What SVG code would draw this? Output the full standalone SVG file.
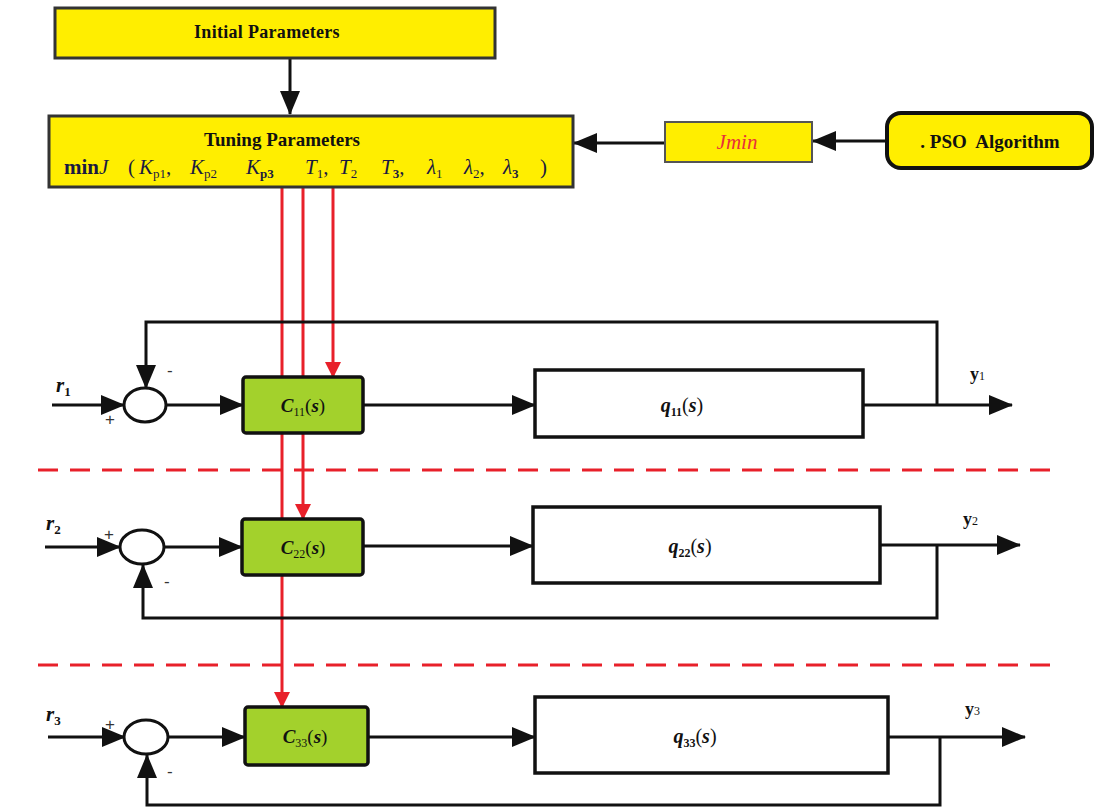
<svg xmlns="http://www.w3.org/2000/svg" width="1094" height="811" viewBox="0 0 1094 811">
<style>
.ybox{fill:#ffee00;stroke:#333;stroke-width:3}
.gbox{fill:#a3d12c;stroke:#111;stroke-width:3.5}
.wbox{fill:#fff;stroke:#111;stroke-width:3.5}
.sum{fill:#fff;stroke:#111;stroke-width:3}
.ln{fill:none;stroke:#111;stroke-width:3}
.red{fill:none;stroke:#e8202a;stroke-width:3}
.dash{fill:none;stroke:#e8202a;stroke-width:3;stroke-dasharray:20 12}
.t{font-family:"Liberation Serif",serif;fill:#111}
.b{font-weight:bold}
.i{font-style:italic}
.sign{font-family:"Liberation Sans",sans-serif;font-size:17px;fill:#333}
.sub{font-size:13px}
</style>
<defs>
<marker id="ah" markerUnits="userSpaceOnUse" markerWidth="24" markerHeight="20" refX="23" refY="10" orient="auto"><path d="M0,0 L24,10 L0,20 Z" fill="#111"/></marker>
<marker id="ahr" markerUnits="userSpaceOnUse" markerWidth="16" markerHeight="16" refX="15" refY="8" orient="auto"><path d="M0,0 L16,8 L0,16 Z" fill="#e8202a"/></marker>
</defs>

<g id="connectors">
<line class="ln" x1="290" y1="58" x2="290" y2="114" marker-end="url(#ah)"/>
<line class="ln" x1="665" y1="143" x2="574" y2="143" marker-end="url(#ah)"/>
<line class="ln" x1="887" y1="141" x2="813" y2="141" marker-end="url(#ah)"/>
<line class="red" x1="333" y1="187" x2="333" y2="377" marker-end="url(#ahr)"/>
<line class="red" x1="303" y1="187" x2="303" y2="519" marker-end="url(#ahr)"/>
<line class="red" x1="282" y1="187" x2="282" y2="707" marker-end="url(#ahr)"/>
<line class="ln" x1="52" y1="405" x2="124" y2="405" marker-end="url(#ah)"/>
<path class="ln" d="M937,405 V322 H146 V388" marker-end="url(#ah)"/>
<line class="ln" x1="166" y1="405" x2="243" y2="405" marker-end="url(#ah)"/>
<line class="ln" x1="363" y1="405" x2="535" y2="405" marker-end="url(#ah)"/>
<line class="ln" x1="863" y1="405" x2="1012" y2="405" marker-end="url(#ah)"/>
<line class="ln" x1="45" y1="547" x2="120" y2="547" marker-end="url(#ah)"/>
<path class="ln" d="M937,545 V618 H143 V565" marker-end="url(#ah)"/>
<line class="ln" x1="164" y1="547" x2="242" y2="547" marker-end="url(#ah)"/>
<line class="ln" x1="363" y1="546" x2="533" y2="546" marker-end="url(#ah)"/>
<line class="ln" x1="880" y1="545" x2="1020" y2="545" marker-end="url(#ah)"/>
<line class="ln" x1="48" y1="737" x2="125" y2="737" marker-end="url(#ah)"/>
<path class="ln" d="M940,737 V805 H147 V755" marker-end="url(#ah)"/>
<line class="ln" x1="167" y1="737" x2="245" y2="737" marker-end="url(#ah)"/>
<line class="ln" x1="368" y1="737" x2="535" y2="737" marker-end="url(#ah)"/>
<line class="ln" x1="888" y1="737" x2="1025" y2="737" marker-end="url(#ah)"/>
<line class="dash" x1="38" y1="470" x2="1062" y2="470"/>
<line class="dash" x1="38" y1="665" x2="1062" y2="665"/>
</g>

<g id="initial">
<rect class="ybox" x="55" y="8" width="440" height="50"/>
<text class="t b" x="267" y="38" font-size="18" text-anchor="middle" letter-spacing="0.3">Initial Parameters</text>
</g>

<g id="tuning">
<rect class="ybox" x="49" y="116" width="524" height="71"/>
<text class="t b" x="282" y="146" font-size="19" text-anchor="middle">Tuning Parameters</text>
<text class="t" y="174" font-size="21" style="fill:#1a1a40"><tspan x="64" class="b">min</tspan><tspan class="i">J</tspan><tspan x="128">(</tspan><tspan x="139" class="i">K</tspan><tspan class="sub" dy="4">p1</tspan><tspan dy="-4">,</tspan><tspan x="190" class="i">K</tspan><tspan class="sub" dy="4">p2</tspan><tspan x="246" dy="-4" class="i">K</tspan><tspan class="sub b" dy="4">p3</tspan><tspan x="305" dy="-4" class="i">T</tspan><tspan class="sub" dy="4">1</tspan><tspan dy="-4">,</tspan><tspan x="339" class="i">T</tspan><tspan class="sub" dy="4">2</tspan><tspan x="381" dy="-4" class="i">T</tspan><tspan class="sub b" dy="4">3</tspan><tspan dy="-4">,</tspan><tspan x="427" class="i">λ</tspan><tspan class="sub" dy="4">1</tspan><tspan x="464" dy="-4" class="i">λ</tspan><tspan class="sub" dy="4">2</tspan><tspan dy="-4">,</tspan><tspan x="503" class="i">λ</tspan><tspan class="sub b" dy="4">3</tspan><tspan x="540" dy="-4">)</tspan></text>
</g>

<g id="jmin">
<rect x="665" y="122" width="147" height="40" fill="#ffee00" stroke="#555" stroke-width="2"/>
<text class="t i" x="737" y="149" font-size="21" text-anchor="middle" style="fill:#e8303a">Jmin</text>
</g>

<g id="pso">
<rect x="887" y="113" width="205" height="55" rx="14" fill="#ffee00" stroke="#111" stroke-width="4"/>
<text class="t b" x="990" y="148" font-size="19" text-anchor="middle" xml:space="preserve">. PSO  Algorithm</text>
</g>

<g id="loop1">
<ellipse class="sum" cx="145" cy="405" rx="21" ry="17"/>
<text class="t b i" x="56" y="392" font-size="21">r<tspan font-size="13" dy="4" font-style="normal">1</tspan></text>
<text class="sign" x="105" y="425">+</text>
<text class="sign" x="167" y="376">-</text>
<rect class="gbox" x="243" y="377" width="120" height="56" rx="3"/>
<text class="t" x="303" y="412" font-size="19" text-anchor="middle" fill="#2a2a2a"><tspan class="i b">C</tspan><tspan font-size="12" dy="4">11</tspan><tspan dy="-4">(</tspan><tspan class="i b">s</tspan>)</text>
<rect class="wbox" x="535" y="370" width="328" height="67"/>
<text class="t" x="682" y="412" font-size="20" text-anchor="middle"><tspan class="i b">q</tspan><tspan font-size="12" dy="4" class="b">11</tspan><tspan dy="-4">(</tspan><tspan class="i b">s</tspan>)</text>
<text class="t b" x="970" y="380" font-size="18">y<tspan font-size="12" font-weight="normal">1</tspan></text>
</g>

<g id="loop2">
<ellipse class="sum" cx="142" cy="547" rx="22" ry="17"/>
<text class="t b i" x="46" y="530" font-size="21">r<tspan font-size="13" dy="4" font-style="normal">2</tspan></text>
<text class="sign" x="104" y="540">+</text>
<text class="sign" x="164" y="587">-</text>
<rect class="gbox" x="242" y="519" width="121" height="56" rx="3"/>
<text class="t" x="303" y="554" font-size="19" text-anchor="middle" fill="#2a2a2a"><tspan class="i b">C</tspan><tspan font-size="12" dy="4">22</tspan><tspan dy="-4">(</tspan><tspan class="i b">s</tspan>)</text>
<rect class="wbox" x="533" y="507" width="347" height="76"/>
<text class="t" x="690" y="553" font-size="20" text-anchor="middle"><tspan class="i b">q</tspan><tspan font-size="12" dy="4" class="b">22</tspan><tspan dy="-4">(</tspan><tspan class="i b">s</tspan>)</text>
<text class="t b" x="963" y="525" font-size="18">y<tspan font-size="12" font-weight="normal">2</tspan></text>
</g>

<g id="loop3">
<ellipse class="sum" cx="146" cy="737" rx="22" ry="17"/>
<text class="t b i" x="46" y="721" font-size="21">r<tspan font-size="13" dy="4" font-style="normal">3</tspan></text>
<text class="sign" x="105" y="730">+</text>
<text class="sign" x="167" y="777">-</text>
<rect class="gbox" x="245" y="707" width="123" height="58" rx="3"/>
<text class="t" x="305" y="743" font-size="19" text-anchor="middle" fill="#2a2a2a"><tspan class="i b">C</tspan><tspan font-size="12" dy="4">33</tspan><tspan dy="-4">(</tspan><tspan class="i b">s</tspan>)</text>
<rect class="wbox" x="535" y="697" width="353" height="76"/>
<text class="t" x="695" y="743" font-size="20" text-anchor="middle"><tspan class="i b">q</tspan><tspan font-size="12" dy="4" class="b">33</tspan><tspan dy="-4">(</tspan><tspan class="i b">s</tspan>)</text>
<text class="t b" x="965" y="715" font-size="18">y<tspan font-size="12" font-weight="normal">3</tspan></text>
</g>
</svg>
